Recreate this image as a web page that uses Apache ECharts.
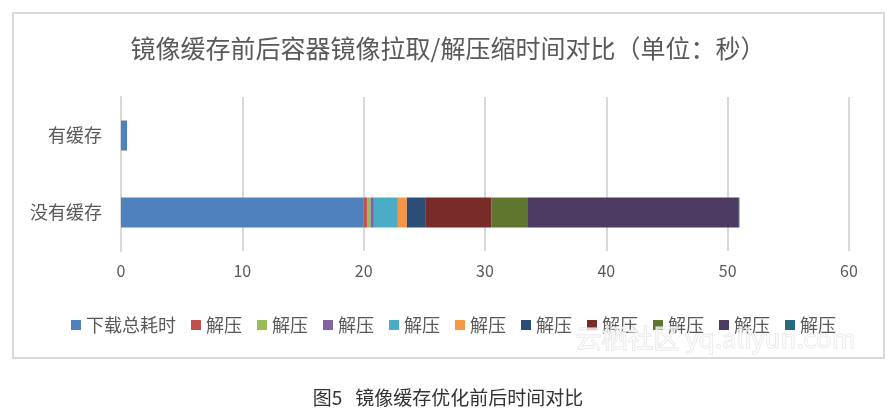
<!DOCTYPE html>
<html>
<head>
<meta charset="utf-8">
<script src="https://cdn.jsdelivr.net/npm/echarts@6/dist/echarts.min.js"></script>
<style>
html,body{margin:0;padding:0;background:#fff;}
#c{width:896px;height:415px;}
</style>
</head>
<body>
<div id="c"></div>
<script>
const categories = ['没有缓存', '有缓存'];
const seriesNames = ['下载总耗时', '解压', '解压', '解压', '解压', '解压', '解压', '解压', '解压', '解压', '解压'];
const download = [20.0, 0.5];
const unpack1 = [0.27, 0];
const unpack2 = [0.3, 0];
const unpack3 = [0.27, 0];
const unpack4 = [1.98, 0];
const unpack5 = [0.74, 0];
const unpack6 = [1.51, 0];
const unpack7 = [5.44, 0];
const unpack8 = [2.97, 0];
const unpack9 = [17.44, 0];
const unpack10 = [0.05, 0];
const xTicks = { min: 0, max: 60, interval: 10 };

const seriesData = [download, unpack1, unpack2, unpack3, unpack4, unpack5, unpack6, unpack7, unpack8, unpack9, unpack10];
const colors = ['#4F81BD', '#C0504D', '#9BBB59', '#8064A2', '#4BACC6', '#F79646', '#2C4D75', '#772C2A', '#5F7530', '#4D3B62', '#276A7C'];
const FONT = '"Noto Sans CJK SC", "Noto Sans", sans-serif';

const chart = echarts.init(document.getElementById('c'), null, { renderer: 'canvas' });
chart.setOption({
  animation: false,
  color: colors,
  textStyle: { fontFamily: FONT },
  title: {
    text: '镜像缓存前后容器镜像拉取/解压缩时间对比（单位：秒）',
    left: 'center',
    top: 31,
    textStyle: { fontFamily: FONT, fontSize: 25, fontWeight: 'normal', color: '#595959' }
  },
  legend: {
    left: 66,
    top: 311,
    itemWidth: 10,
    itemHeight: 10,
    itemGap: 15,
    icon: 'rect',
    textStyle: { fontFamily: FONT, fontSize: 18, color: '#595959' },
    data: seriesNames.map((n, i) => ({ name: n + '\u200B'.repeat(i) }))
  },
  grid: { left: 121, right: 47, top: 97, bottom: 164, containLabel: false },
  xAxis: {
    type: 'value',
    min: xTicks.min,
    max: xTicks.max,
    interval: xTicks.interval,
    axisLine: { show: false },
    axisTick: { show: false },
    axisLabel: { fontFamily: FONT, fontSize: 16, color: '#595959', margin: 12 },
    splitLine: { lineStyle: { color: '#d9d9d9', width: 2 } }
  },
  yAxis: {
    type: 'category',
    data: categories,
    axisLine: { show: true, lineStyle: { color: '#d9d9d9', width: 2 } },
    axisTick: { show: false },
    axisLabel: { fontFamily: FONT, fontSize: 18, color: '#595959', margin: 19 }
  },
  series: seriesData.map((d, i) => ({
    name: seriesNames[i] + '\u200B'.repeat(i),
    type: 'bar',
    stack: 'total',
    barWidth: 30,
    data: d,
    itemStyle: { color: colors[i] }
  })),
  graphic: [
    {
      type: 'rect',
      shape: { x: 13, y: 13, width: 871, height: 345 },
      style: { fill: 'none', stroke: '#d9d9d9', lineWidth: 2 },
      z: -10
    },
    {
      type: 'text',
      left: 575,
      top: 325,
      style: { text: '云栖社区 yq.aliyun.com', font: '26px ' + FONT, fill: 'rgba(255,255,255,0.6)', stroke: '#e2e2e2', lineWidth: 1 },
      z: 100
    },
    {
      type: 'text',
      left: 'center',
      top: 388,
      style: { text: '图5   镜像缓存优化前后时间对比', font: '19px ' + FONT, fill: '#333333' }
    }
  ]
});
</script>
</body>
</html>
